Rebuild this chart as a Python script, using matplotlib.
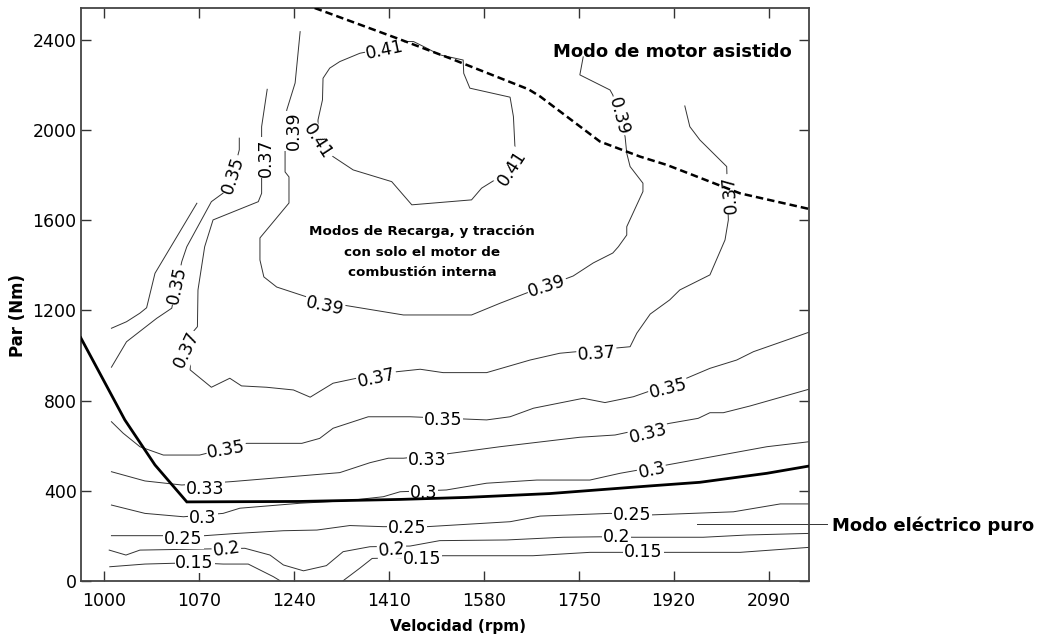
import matplotlib
matplotlib.use('Agg')
import matplotlib.pyplot as plt

plt.rcParams['font.family'] = 'DejaVu Sans'

# efficiency map of the engine: speed (rpm) vs torque (Nm)
c041_x = [1439, 1454, 1472, 1501, 1543, 1544, 1555, 1627, 1633, 1636, 1630, 1600, 1576, 1558,
          1451, 1415, 1346, 1310, 1283, 1283, 1291, 1292, 1304, 1322, 1358, 1403, 1439]
c041_y = [2394, 2394, 2372, 2335, 2312, 2253, 2187, 2147, 2061, 1913, 1832, 1780, 1743, 1691,
          1669, 1772, 1824, 1883, 1950, 2046, 2135, 2231, 2276, 2305, 2342, 2364, 2394]

c039_x = [1251, 1242, 1227, 1224, 1224, 1231, 1231, 1179, 1179, 1186, 1209, 1263, 1295, 1328,
          1436, 1558, 1609, 1657, 1693, 1740, 1776, 1811, 1821, 1836, 1836, 1865, 1865, 1842,
          1836, 1833, 1822, 1811, 1806, 1752, 1758]
c039_y = [2438, 2210, 2090, 1913, 1815, 1793, 1677, 1522, 1424, 1349, 1304, 1260, 1220, 1224,
          1180, 1180, 1232, 1278, 1309, 1353, 1411, 1455, 1483, 1535, 1572, 1728, 1765, 1839,
          1898, 1972, 2064, 2157, 2179, 2246, 2326]

c037_x = [1192, 1182, 1182, 1182, 1176, 1095, 1080, 1068, 1067, 1057, 1054, 1092, 1125, 1146,
          1191, 1239, 1269, 1310, 1352, 1424, 1466, 1507, 1585, 1663, 1716, 1842, 1854, 1878,
          1913, 1931, 1985, 2012, 2018, 2015, 1967, 1949, 1940]
c037_y = [2182, 2016, 1794, 1720, 1683, 1602, 1483, 1291, 1128, 1099, 936, 859, 899, 865,
          859, 847, 815, 877, 899, 928, 939, 924, 924, 980, 1010, 1039, 1099, 1184,
          1247, 1291, 1358, 1513, 1602, 1839, 1957, 2016, 2108]

c035a_x = [1142, 1142, 1131, 1113, 1092, 1048, 1039, 1030, 1021, 994, 940, 913]
c035a_y = [1965, 1913, 1809, 1721, 1683, 1483, 1417, 1313, 1210, 1165, 1061, 948]

c035b_x = [1066, 991, 976, 964, 940, 913]
c035b_y = [1676, 1365, 1212, 1188, 1150, 1121]

c035c_x = [913, 934, 964, 1006, 1071, 1155, 1254, 1286, 1310, 1373, 1448, 1585, 1627, 1669,
           1758, 1797, 1848, 1943, 1985, 2033, 2063, 2162]
c035c_y = [706, 655, 595, 558, 558, 610, 610, 632, 677, 728, 728, 714, 728, 766,
           810, 791, 817, 899, 943, 980, 1017, 1103]

c033_x = [913, 973, 1039, 1128, 1322, 1376, 1409, 1436, 1513, 1609, 1752, 1815, 1913, 1964,
          1985, 2009, 2057, 2162]
c033_y = [484, 443, 425, 440, 480, 524, 544, 544, 563, 595, 637, 647, 699, 721,
          746, 746, 776, 850]

c030_x = [913, 973, 1042, 1113, 1143, 1251, 1334, 1400, 1430, 1513, 1585, 1675, 1770, 1824,
          1908, 2087, 2162]
c030_y = [336, 299, 284, 299, 322, 344, 355, 373, 395, 403, 433, 447, 447, 477,
          514, 595, 617]

c025_x = [913, 1003, 1080, 1137, 1221, 1281, 1340, 1400, 1478, 1627, 1681, 1806, 1878, 2027,
          2111, 2162]
c025_y = [200, 200, 200, 210, 222, 225, 245, 240, 240, 262, 287, 299, 292, 306,
          341, 341]

c020_x = [909, 939, 964, 1152, 1197, 1221, 1257, 1298, 1328, 1376, 1448, 1501, 1621, 1722,
          1788, 1848, 1973, 2051, 2162]
c020_y = [136, 114, 136, 144, 114, 70, 44, 67, 129, 151, 154, 178, 181, 193,
          195, 193, 193, 203, 210]

c015a_x = [910, 973, 1062, 1113, 1158, 1203, 1215]
c015a_y = [62, 74, 80, 74, 74, 18, 0]

c015b_x = [1328, 1358, 1380, 1469, 1507, 1668, 1770, 1908, 2039, 2162]
c015b_y = [0, 56, 99, 104, 111, 111, 126, 126, 126, 148]

# label positions along each contour: (rpm, Nm, angle)
lab041 = [(1403, 2357, 12), (1630, 1831, 57), (1283, 1950, -57)]
lab039 = [(1239, 1997, 90), (1295, 1220, -12), (1693, 1309, 18), (1822, 2064, -75)]
lab037 = [(1189, 1879, 90), (1048, 1025, 65), (1388, 899, 12), (1782, 1010, 4),
          (2021, 1717, 95)]
lab035a = [(1131, 1802, 72), (1030, 1313, 78)]
lab035c = [(1119, 580, 10), (1507, 714, 0), (1910, 855, 14)]
lab033 = [(1080, 406, 0), (1478, 536, 0), (1875, 655, 14)]
lab030 = [(1077, 280, 0), (1472, 391, 0), (1881, 489, 12)]
lab025 = [(1042, 185, 0), (1442, 233, 0), (1845, 292, 0)]
lab020 = [(1119, 139, 8), (1415, 139, 5), (1818, 193, 0)]
lab015 = [(1062, 80, 0), (1469, 95, 0), (1866, 126, 0)]

contours = [
    ('0.41', c041_x, c041_y, lab041),
    ('0.39', c039_x, c039_y, lab039),
    ('0.37', c037_x, c037_y, lab037),
    ('0.35', c035a_x, c035a_y, lab035a),
    ('', c035b_x, c035b_y, []),
    ('0.35', c035c_x, c035c_y, lab035c),
    ('0.33', c033_x, c033_y, lab033),
    ('0.3', c030_x, c030_y, lab030),
    ('0.25', c025_x, c025_y, lab025),
    ('0.2', c020_x, c020_y, lab020),
    ('0.15', c015a_x, c015a_y, lab015[:1]),
    ('0.15', c015b_x, c015b_y, lab015[1:]),
]

# mode boundaries
elec_x = [858, 937, 991, 1048, 1251, 1430, 1549, 1698, 1788, 1878, 1967, 2087, 2162]
elec_y = [1079, 714, 514, 350, 352, 361, 370, 387, 404, 421, 437, 477, 509]
assist_x = [1277, 1424, 1519, 1660, 1681, 1788, 1860, 1908, 2039, 2162]
assist_y = [2543, 2409, 2320, 2182, 2150, 1950, 1883, 1846, 1720, 1651]

speed_ticks = [900, 1070, 1240, 1410, 1580, 1750, 1920, 2090]
speed_labels = ['1000', '1070', '1240', '1410', '1580', '1750', '1920', '2090']
torque_ticks = [0, 400, 800, 1200, 1600, 2000, 2400]

fig = plt.figure(figsize=(10.39, 6.39), dpi=100)
ax = fig.add_axes([0.0777, 0.0912, 0.7007, 0.8963])

for name, xs, ys, labs in contours:
    ax.plot(xs, ys, color='#333333', lw=0.7, zorder=2)
    for lx, ly, rot in labs:
        ax.text(lx, ly, name, fontsize=12.5, rotation=rot,
                ha='center', va='center', rotation_mode='anchor', zorder=3,
                bbox=dict(boxstyle='square,pad=0.05', fc='white', ec='none'))

ax.plot(elec_x, elec_y, color='black', lw=2.0, zorder=4, solid_joinstyle='miter')
ax.plot(assist_x, assist_y, color='black', lw=1.8, dashes=(3, 1.6), zorder=4)

ax.text(1918, 2348, 'Modo de motor asistido', fontsize=13, fontweight='bold',
        ha='center', va='center', zorder=5)
ax.text(1469, 1458, 'Modos de Recarga, y tracción\ncon solo el motor de\ncombustión interna',
        fontsize=9.7, fontweight='bold', ha='center', va='center', linespacing=1.75, zorder=5)

# pointer for the pure electric region
ax.plot([1961, 2195], [252, 252], color='#333333', lw=0.7, clip_on=False)
ax.text(2203, 245, 'Modo eléctrico puro', fontsize=13, fontweight='bold',
        ha='left', va='center', clip_on=False)

ax.set_xlim(858, 2162)
ax.set_ylim(0, 2543)
ax.set_xticks(speed_ticks)
ax.set_xticklabels(speed_labels)
ax.set_yticks(torque_ticks)
ax.tick_params(direction='in', length=7, width=1, top=True, right=True,
               labelsize=12.5, color='#333333')
ax.tick_params(axis='x', pad=8)
ax.tick_params(axis='y', pad=3)
for sp in ax.spines.values():
    sp.set_color('#444444')
    sp.set_linewidth(1.3)

fig.text(0.0176, 0.5055, 'Par (Nm)', rotation=90, fontsize=12, fontweight='bold',
         ha='center', va='center')
fig.text(0.4408, 0.0188, 'Velocidad (rpm)', fontsize=11, fontweight='bold',
         ha='center', va='center')

fig.savefig('out.png', dpi=100)
